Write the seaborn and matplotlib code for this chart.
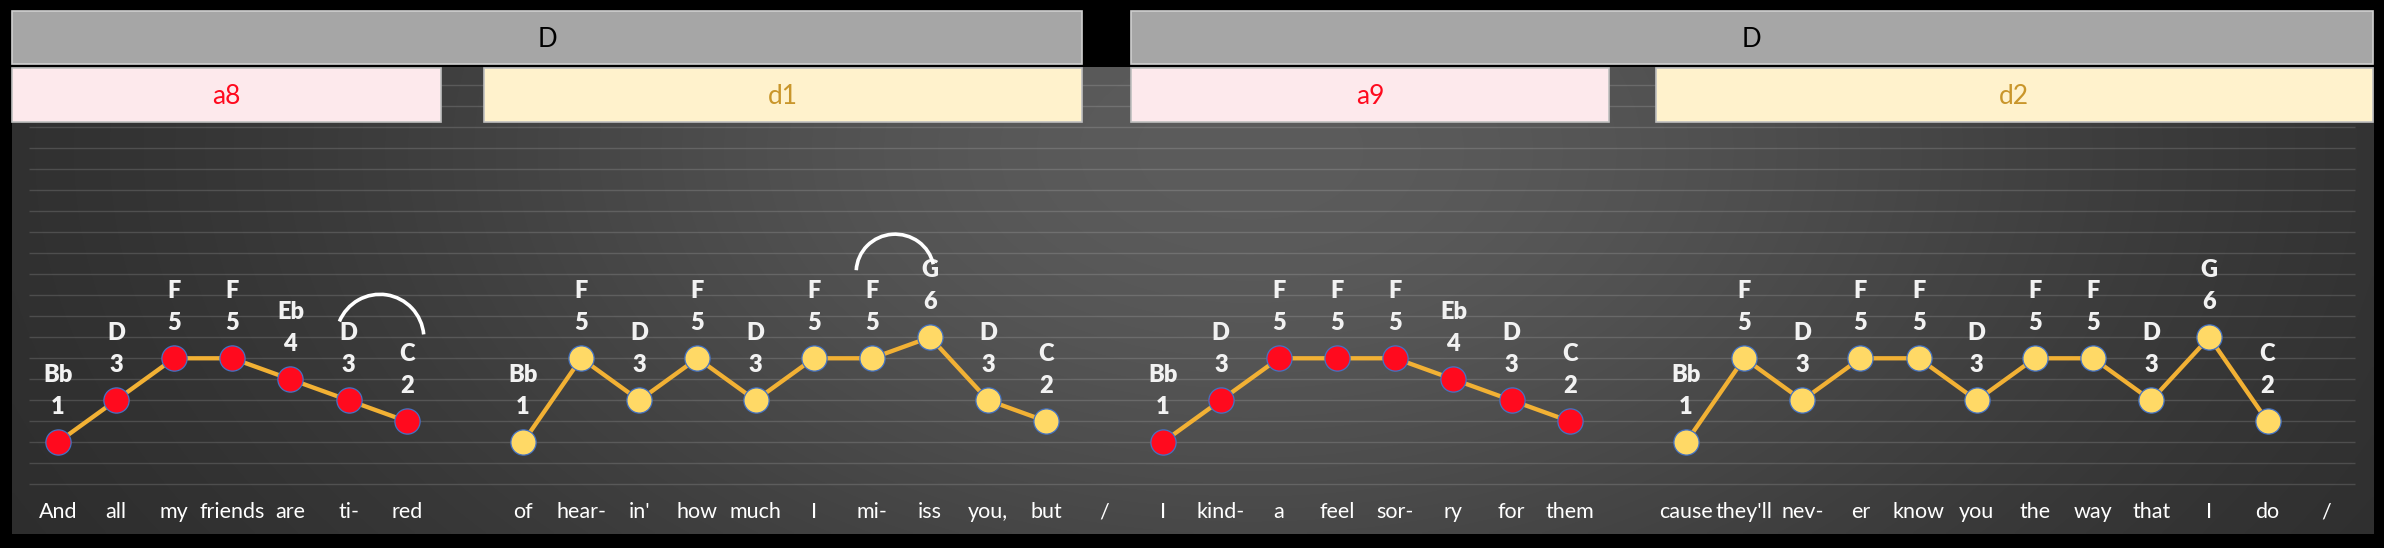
import numpy as np
import matplotlib
matplotlib.use("Agg")
import matplotlib.pyplot as plt
import seaborn as sns
import pandas as pd
from matplotlib.patches import Rectangle, Arc

# ---------------- data ----------------
lyrics = ["And", "all", "my", "friends", "are", "ti-", "red", "",
          "of", "hear-", "in'", "how", "much", "I", "mi-", "iss", "you,", "but", "/",
          "I", "kind-", "a", "feel", "sor-", "ry", "for", "them", "",
          "cause", "they'll", "nev-", "er", "know", "you", "the", "way", "that", "I", "do", "/"]
notes = ["Bb", "D", "F", "F", "Eb", "D", "C", "",
         "Bb", "F", "D", "F", "D", "F", "F", "G", "D", "C", "",
         "Bb", "D", "F", "F", "F", "Eb", "D", "C", "",
         "Bb", "F", "D", "F", "F", "D", "F", "F", "D", "G", "C", ""]
degrees = [1, 3, 5, 5, 4, 3, 2, None,
           1, 5, 3, 5, 3, 5, 5, 6, 3, 2, None,
           1, 3, 5, 5, 5, 4, 3, 2, None,
           1, 5, 3, 5, 5, 3, 5, 5, 3, 6, 2, None]
phrase = ["a8"] * 7 + [""] + ["d1"] * 10 + [""] + ["a9"] * 8 + [""] + ["d2"] * 11 + [""]
section_labels = ["D", "D"]
phrase_labels = ["a8", "d1", "a9", "d2"]

# ---------------- styles ----------------
phrase_fill = {"a8": "#FF0A1E", "d1": "#FFD966", "a9": "#FF0A1E", "d2": "#FFD966"}
phrase_box = {"a8": "#FDE9EC", "d1": "#FFF2CC", "a9": "#FDE9EC", "d2": "#FFF2CC"}
phrase_txt = {"a8": "#FF0A1E", "d1": "#C9962B", "a9": "#FF0A1E", "d2": "#C9962B"}
line_color = "#F2B134"

sns.set_style("dark")
plt.rcParams["font.family"] = ["Lato", "DejaVu Sans"]

df = pd.DataFrame({"x": np.arange(len(lyrics)), "lyric": lyrics, "note": notes,
                   "deg": degrees, "phrase": phrase})

fig = plt.figure(figsize=(23.84, 5.48), dpi=100)
fig.patch.set_facecolor("black")
ax = fig.add_axes([0, 0, 1, 1])
ax.set_facecolor("black")

XL = (-0.994, 40.003)
YL = (-4.033, 22.06)

# panel gradient background
px0, px1, py0, py1 = -0.788, 39.82, -3.38, 18.85
W, H = 600, 160
gx = np.linspace(12, 2373, W)
gy = np.linspace(67, 534, H)
GX, GY = np.meshgrid(gx, gy)
val = 0.16 + 0.2 * np.exp(-((GX - 1250) / 900) ** 2 - ((GY - 150) / 550) ** 2)
img = np.dstack([val, val, val])
ax.imshow(img, extent=(px0, px1, py0, py1), origin="upper", aspect="auto", zorder=0,
          interpolation="bilinear")

# staff lines
ax.hlines(np.arange(-1, 19), -0.5, 39.5, color="white", alpha=0.14, lw=1.0, zorder=1)

# section bars
for lab, (a, b) in zip(section_labels, [(-0.788, 17.613), (18.456, 39.81)]):
    ax.add_patch(Rectangle((a, 19.01), b - a, 2.53, facecolor="#A6A6A6",
                           edgecolor="#D0D0D0", lw=1.2, zorder=2))
    ax.text((a + b) / 2, 20.2, lab, ha="center", va="center", fontsize=18.5,
            color="black", zorder=3)

# phrase boxes
for lab, (a, b) in zip(phrase_labels, [(-0.788, 6.589), (7.329, 17.613),
                                       (18.456, 26.676), (27.485, 39.81)]):
    ax.add_patch(Rectangle((a, 16.25), b - a, 2.57, facecolor=phrase_box[lab],
                           edgecolor="#BFBFBF", lw=1.2, zorder=2))
    ax.text((a + b) / 2, 17.45, lab, ha="center", va="center", fontsize=19,
            color=phrase_txt[lab], zorder=3)

# melody lines and notes
for lab in phrase_labels:
    sub = df[df["phrase"] == lab]
    sns.lineplot(data=sub, x="x", y="deg", color=line_color, lw=3.1, ax=ax,
                 estimator=None, sort=False, legend=False, zorder=3)
    sns.scatterplot(data=sub, x="x", y="deg", color=phrase_fill[lab], s=330,
                    edgecolor="#4472C4", linewidth=0.9, ax=ax, legend=False, zorder=4)

# note labels
for _, r in df.iterrows():
    if pd.notna(r["deg"]):
        ax.text(r["x"], r["deg"] + 1.67, str(int(r["deg"])), ha="center", va="center",
                fontsize=17, fontweight="heavy", color="#F2F2F2", zorder=5)
        ax.text(r["x"], r["deg"] + 3.19, r["note"], ha="center", va="center",
                fontsize=17, fontweight="heavy", color="#F2F2F2", zorder=5)
    if r["lyric"]:
        ax.text(r["x"], -2.33, r["lyric"], ha="center", va="center", fontsize=15.5,
                color="white", zorder=5)

# slurs
ax.add_patch(Arc((5.54, 5.95), 1.51, 4.19, theta1=14, theta2=131, color="white",
                 lw=2.6, zorder=5))
ax.add_patch(Arc((14.40, 9.10), 1.34, 3.62, theta1=30, theta2=172, color="white",
                 lw=2.6, zorder=5))

ax.set_xlim(*XL)
ax.set_ylim(*YL)
ax.axis("off")

fig.savefig("out.png", dpi=100, facecolor="black")
